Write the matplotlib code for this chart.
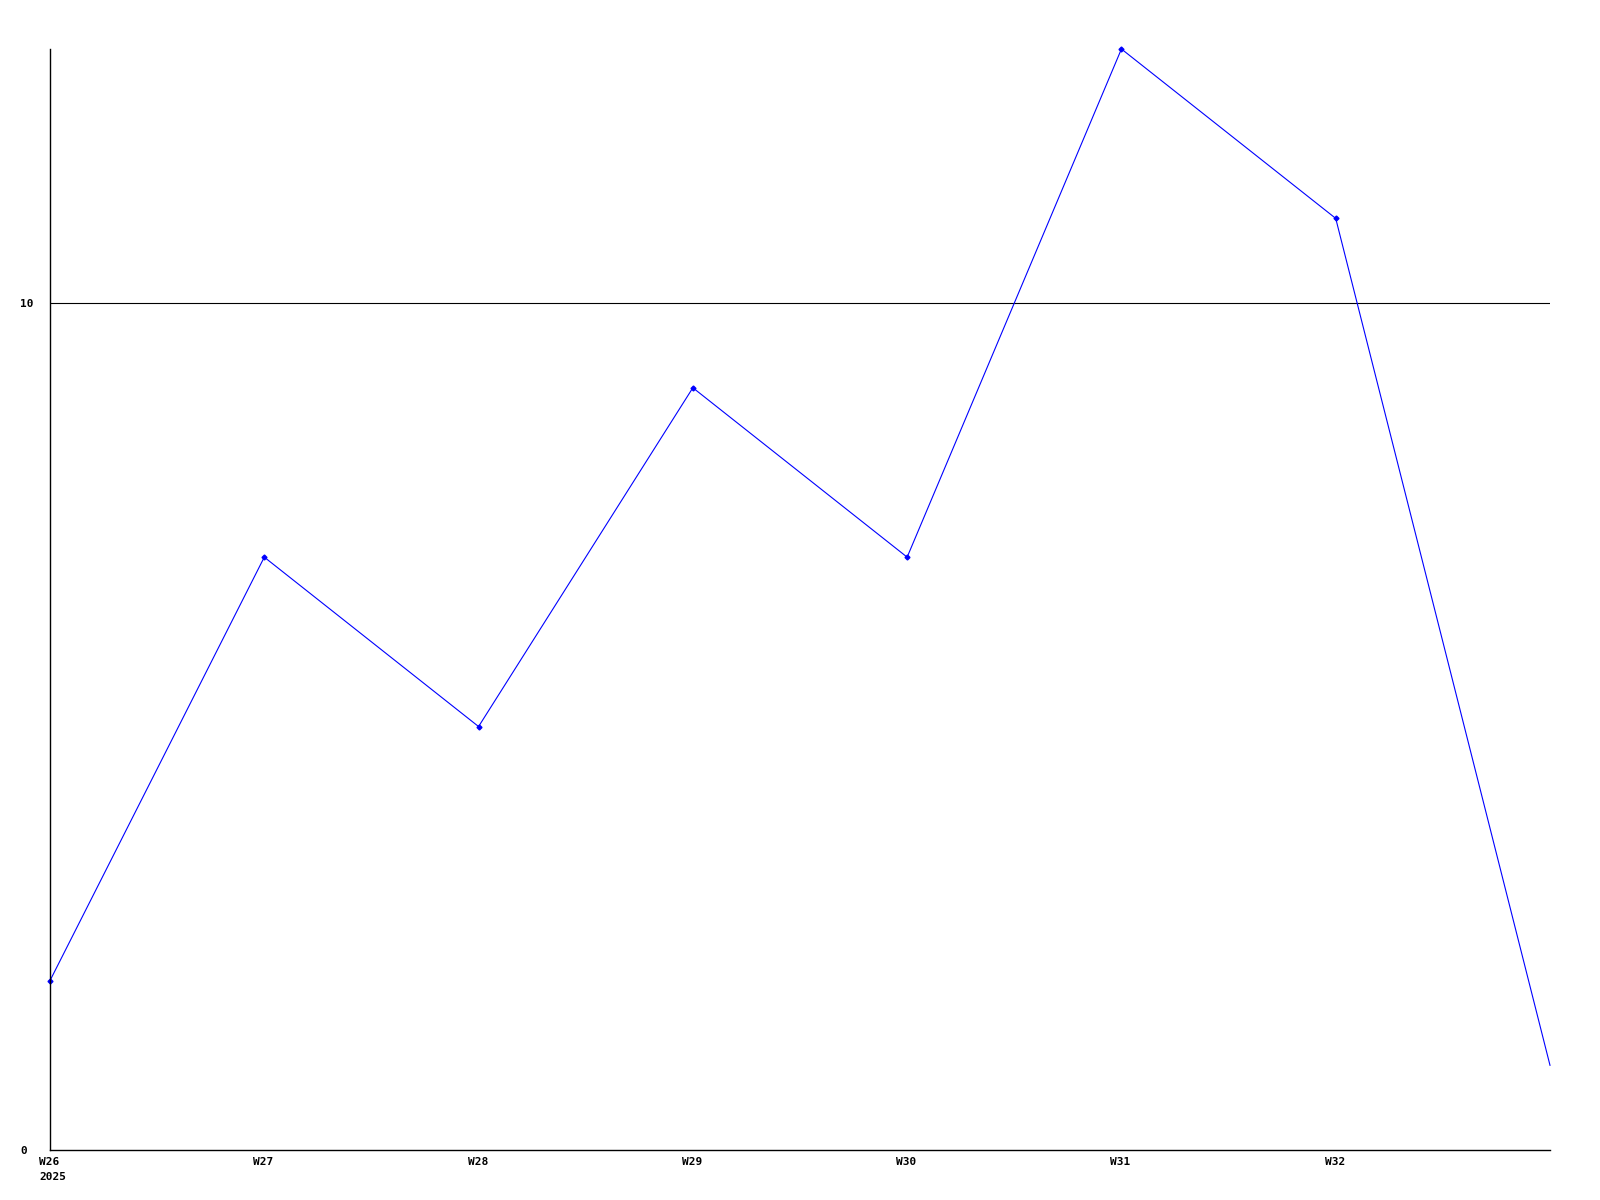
import matplotlib
matplotlib.use("Agg")
import matplotlib.pyplot as plt
from matplotlib.transforms import ScaledTranslation

weeks = ["W26", "W27", "W28", "W29", "W30", "W31", "W32", "W33"]
values = [2, 7, 5, 9, 7, 13, 11, 1]
tick_labels = ["W26\n2025", "W27", "W28", "W29", "W30", "W31", "W32"]
y_ticks = [0, 10]

fig = plt.figure(figsize=(16, 12), dpi=100)
ax = fig.add_axes([50/1600, 1-1150/1200, 1500/1600, (1150-49)/1200])

x = list(range(len(values)))
ax.plot(x, values, color="#0000ff", linewidth=0.8, marker="D", markersize=2.5,
        markevery=list(range(len(values)-1)), clip_on=False)

ax.set_xlim(0, len(values)-1)
ax.set_ylim(0, 13)
for s in ["top", "right"]:
    ax.spines[s].set_visible(False)
for s in ["left", "bottom"]:
    ax.spines[s].set_linewidth(1.0)
    ax.spines[s].set_color("black")

ax.axhline(10, color="black", linewidth=0.8, zorder=0)

ax.set_xticks(x[:-1])
ax.set_xticklabels(tick_labels, ha="left", va="top", fontfamily="DejaVu Sans Mono",
                   fontweight="bold", fontsize=8, linespacing=1.6)
ax.set_yticks(y_ticks)
ax.set_yticklabels([str(v) for v in y_ticks], fontfamily="DejaVu Sans Mono",
                   fontweight="bold", fontsize=8, ha="left")
ax.tick_params(axis="both", length=0)
ax.tick_params(axis="x", pad=5)
ax.tick_params(axis="y", pad=0)

xoff = ScaledTranslation(-11/100, 0, fig.dpi_scale_trans)
for lbl in ax.get_xticklabels():
    lbl.set_transform(lbl.get_transform() + xoff)
yoff = ScaledTranslation(-30/100, 0, fig.dpi_scale_trans)
for lbl in ax.get_yticklabels():
    lbl.set_transform(lbl.get_transform() + yoff)

fig.savefig("out.png", dpi=100, facecolor="white")
